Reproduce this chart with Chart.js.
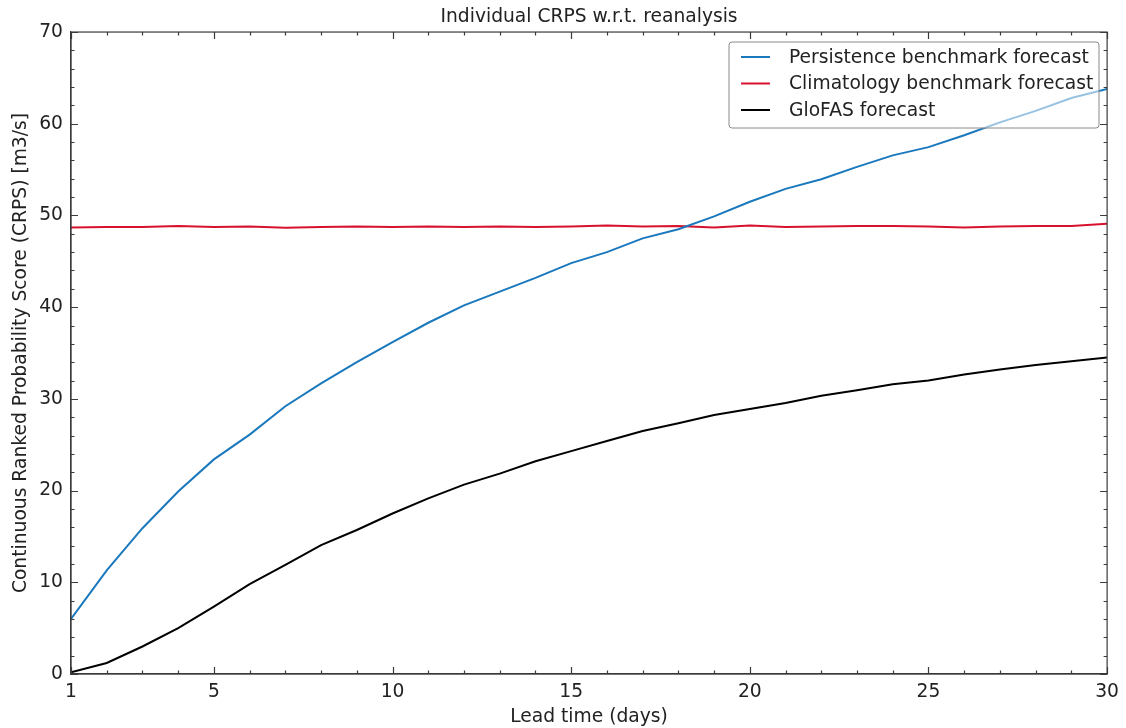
<!DOCTYPE html>
<html>
<head>
<meta charset="utf-8">
<script src="https://cdn.jsdelivr.net/npm/chart.js@4/dist/chart.umd.min.js"></script>
<style>
    body { margin: 0; background: #fff; }
    #wrap { width: 1126px; height: 728px; }
</style>
</head>
<body>
<div id="wrap"><canvas id="crpsChart"></canvas></div>
<script>
var leadDays = [1, 2, 3, 4, 5, 6, 7, 8, 9, 10, 11, 12, 13, 14, 15, 16, 17, 18, 19, 20, 21, 22, 23, 24, 25, 26, 27, 28, 29, 30];
var persistence = [6.0, 11.3, 15.9, 19.9, 23.4, 26.1, 29.2, 31.7, 34.0, 36.2, 38.3, 40.2, 41.7, 43.2, 44.8, 46.0, 47.5, 48.5, 49.9, 51.5, 52.9, 53.95, 55.3, 56.55, 57.45, 58.75, 60.15, 61.4, 62.8, 63.8];
var climatology = [48.7, 48.75, 48.75, 48.85, 48.75, 48.8, 48.65, 48.75, 48.8, 48.75, 48.8, 48.75, 48.8, 48.75, 48.8, 48.9, 48.8, 48.85, 48.7, 48.9, 48.75, 48.8, 48.85, 48.85, 48.8, 48.7, 48.8, 48.85, 48.85, 49.1];
var glofas = [0.2, 1.2, 3.0, 5.0, 7.35, 9.8, 11.9, 14.05, 15.7, 17.5, 19.15, 20.65, 21.85, 23.2, 24.3, 25.4, 26.5, 27.35, 28.25, 28.9, 29.55, 30.35, 30.95, 31.6, 32.0, 32.65, 33.2, 33.7, 34.1, 34.5];
var seriesNames = ['Persistence benchmark forecast', 'Climatology benchmark forecast', 'GloFAS forecast'];
var seriesColors = ['#1a78bd', '#d8112f', '#000000'];
var xTicks = [1, 5, 10, 15, 20, 25, 30];

var fontFamily = '"DejaVu Sans", sans-serif';
var fontSize = 18.7;
var axisColor = '#3a3a3a';

function toPoints(values) {
    return values.map((v, i) => ({ x: leadDays[i], y: v }));
}

// frame on top/right + inward ticks, like matplotlib classic
var frameTicks = {
    id: 'frameTicks',
    afterDatasetsDraw: function (chart) {
        var ctx = chart.ctx;
        var a = chart.chartArea;
        var xs = chart.scales.x;
        var ys = chart.scales.y;
        ctx.save();
        ctx.strokeStyle = axisColor;
        ctx.lineWidth = 1.2;
        ctx.strokeRect(a.left, a.top, a.right - a.left, a.bottom - a.top);
        ctx.beginPath();
        for (var d = xs.min; d <= xs.max; d++) {
            var px = Math.round(xs.getPixelForValue(d)) + 0.5;
            var len = xTicks.indexOf(d) >= 0 ? 7 : 3.5;
            ctx.moveTo(px, a.bottom); ctx.lineTo(px, a.bottom - len);
            ctx.moveTo(px, a.top); ctx.lineTo(px, a.top + len);
        }
        for (var v = ys.min; v <= ys.max; v += 2) {
            var py = Math.round(ys.getPixelForValue(v)) + 0.5;
            var l2 = v % 10 === 0 ? 7 : 3.5;
            ctx.moveTo(a.left, py); ctx.lineTo(a.left + l2, py);
            ctx.moveTo(a.right, py); ctx.lineTo(a.right - l2, py);
        }
        ctx.stroke();

        // legend box, half transparent like the source
        var bx = 729, by = 42, bw = 370, bh = 86;
        ctx.beginPath();
        ctx.roundRect(bx, by, bw, bh, 3);
        ctx.fillStyle = 'rgba(255,255,255,0.55)';
        ctx.fill();
        ctx.strokeStyle = '#8a8a8a';
        ctx.lineWidth = 1;
        ctx.stroke();
        ctx.font = fontSize + 'px ' + fontFamily;
        ctx.textBaseline = 'middle';
        ctx.fillStyle = '#222';
        chart.data.datasets.forEach((ds, i) => {
            var ry = by + 15 + i * 26.5;
            ctx.beginPath();
            ctx.strokeStyle = ds.borderColor;
            ctx.lineWidth = 2;
            ctx.moveTo(bx + 12, ry); ctx.lineTo(bx + 41, ry);
            ctx.stroke();
            ctx.fillText(ds.label, bx + 60, ry + 1);
        });
        ctx.restore();
    }
};

function renderChart() {
    var ctx = document.getElementById('crpsChart');
    new Chart(ctx, {
        type: 'line',
        data: {
            datasets: [
                { label: seriesNames[0], data: toPoints(persistence), borderColor: seriesColors[0] },
                { label: seriesNames[1], data: toPoints(climatology), borderColor: seriesColors[1] },
                { label: seriesNames[2], data: toPoints(glofas), borderColor: seriesColors[2] }
            ]
        },
        options: {
            responsive: true,
            maintainAspectRatio: false,
            animation: false,
            layout: { padding: { left: 0, right: 18, top: 0, bottom: 0 } },
            elements: {
                line: { borderWidth: 2, tension: 0, fill: false },
                point: { radius: 0, hoverRadius: 0 }
            },
            plugins: {
                legend: { display: false },
                tooltip: { enabled: false },
                title: {
                    display: true,
                    fullSize: false,
                    text: 'Individual CRPS w.r.t. reanalysis',
                    color: '#222',
                    font: { family: fontFamily, size: fontSize, weight: 'normal' },
                    padding: { top: 6, bottom: 3.6 }
                }
            },
            scales: {
                x: {
                    type: 'linear',
                    min: 1,
                    max: 30,
                    afterBuildTicks: function (scale) {
                        scale.ticks = xTicks.map(v => ({ value: v }));
                    },
                    afterFit: function (scale) { scale.height = 54; },
                    grid: { display: false, drawTicks: false },
                    border: { display: true, color: axisColor, width: 1.2 },
                    ticks: {
                        color: '#222',
                        padding: 7,
                        maxRotation: 0,
                        autoSkip: false,
                        font: { family: fontFamily, size: fontSize }
                    },
                    title: {
                        display: true,
                        text: 'Lead time (days)',
                        color: '#222',
                        font: { family: fontFamily, size: fontSize },
                        padding: { top: 0, bottom: 0 }
                    }
                },
                y: {
                    type: 'linear',
                    min: 0,
                    max: 70,
                    afterFit: function (scale) { scale.width = 71; },
                    grid: { display: false, drawTicks: false },
                    border: { display: true, color: axisColor, width: 1.2 },
                    ticks: {
                        stepSize: 10,
                        color: '#222',
                        padding: 8,
                        font: { family: fontFamily, size: fontSize }
                    },
                    title: {
                        display: true,
                        text: 'Continuous Ranked Probability Score (CRPS) [m3/s]',
                        color: '#222',
                        font: { family: fontFamily, size: fontSize },
                        padding: { top: 10, bottom: 0 }
                    }
                }
            }
        },
        plugins: [frameTicks]
    });
}

renderChart();
</script>
</body>
</html>
